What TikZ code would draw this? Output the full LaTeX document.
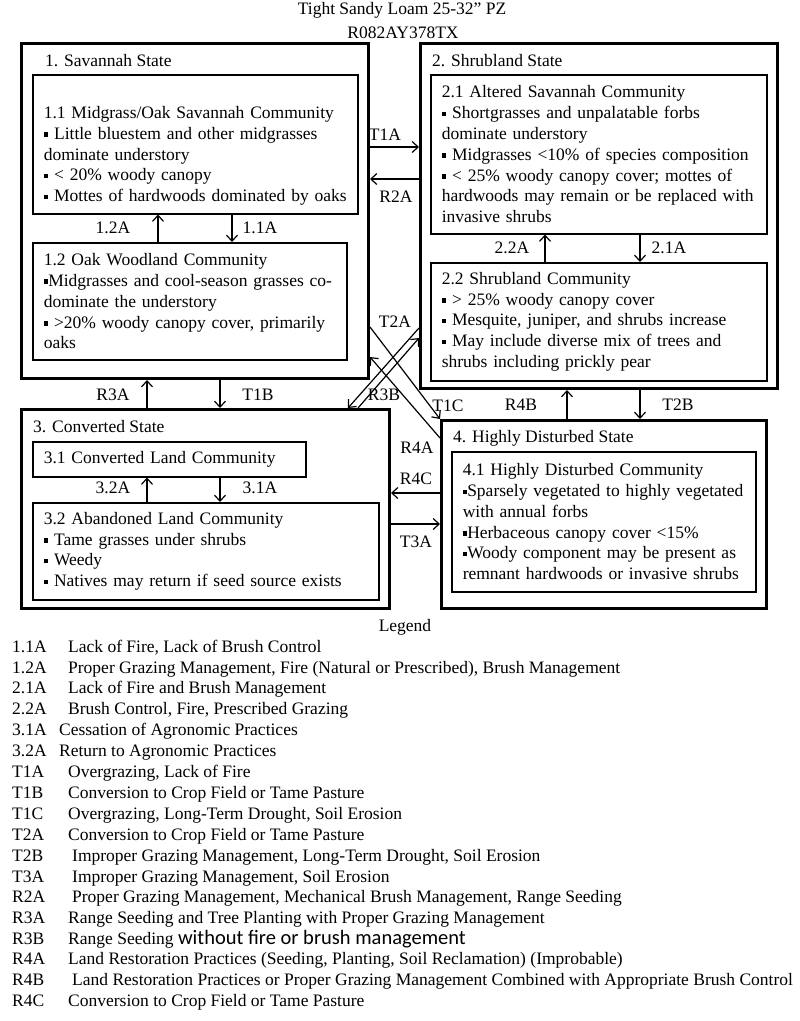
\documentclass[tikz,border=0pt]{standalone}
\usepackage{fontspec}
\setmainfont{Liberation Serif}
\newfontfamily\calib{Carlito}
\usetikzlibrary{arrows.meta}
\newcommand{\sqb}{\rule[2.5pt]{4.5pt}{4.5pt}}
\newcommand{\txtsize}{\fontsize{17.5}{20.8}\selectfont}

\tikzset{
	statebox/.style={draw, line width=3pt, anchor=north west, inner sep=0pt},
	commbox/.style={draw, line width=1.5pt, anchor=north west, align=left, inner xsep=11pt, inner ysep=0pt, font=\txtsize},
	lbl/.style={font=\txtsize, inner sep=0pt},
	leg/.style={font=\txtsize, inner sep=0pt, anchor=base west},
	arr/.style={line width=1.2pt, -{Straight Barb[length=6pt,width=11pt]}}
}

\begin{document}
\begin{tikzpicture}[x=1pt,y=1pt,yscale=-1,xscale=1]
	\useasboundingbox[fill=white] (0,0) rectangle (800,1021);
	\node[lbl, anchor=base] (ttl) at (402,14) {Tight Sandy Loam 25-32” PZ};
	\node[lbl, anchor=base] (code) at (403,38) {R082AY378TX};
	\node[statebox, minimum width=347pt, minimum height=335pt] (s1) at (20,42) {};
	\node[statebox, minimum width=357pt, minimum height=345pt] (s2) at (419,42) {};
	\node[statebox, minimum width=368pt, minimum height=199pt] (s3) at (20,408) {};
	\node[statebox, minimum width=325pt, minimum height=188pt] (s4) at (440,419) {};
	\node[lbl, anchor=base west] (s1t) at (45,66) {1. Savannah State};
	\node[lbl, anchor=base west] (s2t) at (432,66) {2. Shrubland State};
	\node[lbl, anchor=base west] (s3t) at (33,432) {3. Converted State};
	\node[lbl, anchor=base west] (s4t) at (453,442) {4. Highly Disturbed State};
	\node[commbox, text width=303pt, minimum height=139pt] (c11) at (32,74) {\strut\\1.1 Midgrass/Oak Savannah Community\\\sqb{} Little bluestem and other midgrasses\\dominate understory\\\sqb{} < 20\% woody canopy\\\sqb{} Mottes of hardwoods dominated by oaks};
	\node[commbox, text width=292pt, minimum height=117pt] (c12) at (32,242) {1.2 Oak Woodland Community\\\sqb Midgrasses and cool-season grasses co-\\dominate the understory\\\sqb{} >20\% woody canopy cover, primarily\\oaks};
	\node[commbox, text width=314pt, minimum height=159pt] (c21) at (430,74) {2.1 Altered Savannah Community\\\sqb{} Shortgrasses and unpalatable forbs\\dominate understory\\\sqb{} Midgrasses <10\% of species composition\\\sqb{} < 25\% woody canopy cover; mottes of\\hardwoods may remain or be replaced with\\invasive shrubs};
	\node[commbox, text width=314pt, minimum height=118pt] (c22) at (430,262) {2.2 Shrubland Community\\\sqb{} > 25\% woody canopy cover\\\sqb{} Mesquite, juniper, and shrubs increase\\\sqb{} May include diverse mix of trees and\\shrubs including prickly pear};
	\node[commbox, text width=251pt, minimum height=35pt] (c31) at (32,441) {3.1 Converted Land Community};
	\node[commbox, text width=324pt, minimum height=97pt] (c32) at (32,502) {3.2 Abandoned Land Community\\\sqb{} Tame grasses under shrubs\\\sqb{} Weedy\\\sqb{} Natives may return if seed source exists};
	\node[commbox, text width=282pt, minimum height=140pt] (c41) at (451,451) {4.1 Highly Disturbed Community\\\sqb Sparsely vegetated to highly vegetated\\with annual forbs\\\sqb Herbaceous canopy cover <15\%\\\sqb Woody component may be present as\\remnant hardwoods or invasive shrubs};
	\draw[arr] (c12.north -| 158,0) -- (c11.south -| 158,0);
	\draw[arr] (c11.south -| 232,0) -- (c12.north -| 232,0);
	\draw[arr] (c22.north -| 545,0) -- (c21.south -| 545,0);
	\draw[arr] (c21.south -| 640,0) -- (c22.north -| 640,0);
	\draw[arr] (c32.north -| 147,0) -- (c31.south -| 147,0);
	\draw[arr] (c31.south -| 220,0) -- (c32.north -| 220,0);
	\draw[arr] (s3.north -| 147,0) -- (s1.south -| 147,0);
	\draw[arr] (s1.south -| 220,0) -- (s3.north -| 220,0);
	\draw[arr] (s4.north -| 567,0) -- (s2.south -| 567,0);
	\draw[arr] (s2.south -| 640,0) -- (s4.north -| 640,0);
	\draw[arr] (s1.east |- 0,147) -- (s2.west |- 0,147);
	\draw[arr] (s2.west |- 0,179) -- (s1.east |- 0,179);
	\draw[arr] (s4.west |- 0,493) -- (s3.east |- 0,493);
	\draw[arr] (s3.east |- 0,524) -- (s4.west |- 0,524);
	\draw[arr] (s1.east |- 0,327) -- (s4.north west);
	\draw[arr] (s4.west |- 0,438) -- (s1.east |- 0,357);
	\draw[arr] (s2.west |- 0,328) -- (s3.north -| 348,0);
	\draw[arr] (s3.north -| 358,0) -- (s2.west |- 0,338);
	\node[lbl] (l12a) at (113,228) {1.2A};
	\node[lbl] (l11a) at (260,228) {1.1A};
	\node[lbl] (l22a) at (512,248) {2.2A};
	\node[lbl] (l21a) at (669,248) {2.1A};
	\node[lbl] (l32a) at (113,488) {3.2A};
	\node[lbl] (l31a) at (260,488) {3.1A};
	\node[lbl] (lr3a) at (113,395) {R3A};
	\node[lbl] (lt1b) at (258,395) {T1B};
	\node[lbl] (lr4b) at (521,405) {R4B};
	\node[lbl] (lt2b) at (678,405) {T2B};
	\node[lbl] (lt1a) at (385,135) {T1A};
	\node[lbl] (lr2a) at (396,197) {R2A};
	\node[lbl] (lr4c) at (416,479) {R4C};
	\node[lbl] (lt3a) at (416,542) {T3A};
	\node[lbl] (lr4a) at (417,448) {R4A};
	\node[lbl] (lt1c) at (448,406) {T1C};
	\node[lbl] (lt2a) at (395,322) {T2A};
	\node[lbl] (lr3b) at (384,395) {R3B};
	\node[lbl, anchor=base] (lgd) at (405,631) {Legend};
	\node[leg] (g1) at (12,652) {\makebox[56pt][l]{1.1A}Lack of Fire, Lack of Brush Control};
	\node[leg] (g2) at (12,673) {\makebox[56pt][l]{1.2A}Proper Grazing Management, Fire (Natural or Prescribed), Brush Management};
	\node[leg] (g3) at (12,693) {\makebox[56pt][l]{2.1A}Lack of Fire and Brush Management};
	\node[leg] (g4) at (12,714) {\makebox[56pt][l]{2.2A}Brush Control, Fire, Prescribed Grazing};
	\node[leg] (g5) at (12,735) {\makebox[47pt][l]{3.1A}Cessation of Agronomic Practices};
	\node[leg] (g6) at (12,756) {\makebox[47pt][l]{3.2A}Return to Agronomic Practices};
	\node[leg] (g7) at (12,777) {\makebox[56pt][l]{T1A}Overgrazing, Lack of Fire};
	\node[leg] (g8) at (12,798) {\makebox[56pt][l]{T1B}Conversion to Crop Field or Tame Pasture};
	\node[leg] (g9) at (12,819) {\makebox[56pt][l]{T1C}Overgrazing, Long-Term Drought, Soil Erosion};
	\node[leg] (g10) at (12,840) {\makebox[56pt][l]{T2A}Conversion to Crop Field or Tame Pasture};
	\node[leg] (g11) at (12,861) {\makebox[60pt][l]{T2B}Improper Grazing Management, Long-Term Drought, Soil Erosion};
	\node[leg] (g12) at (12,882) {\makebox[60pt][l]{T3A}Improper Grazing Management, Soil Erosion};
	\node[leg] (g13) at (12,902) {\makebox[60pt][l]{R2A}Proper Grazing Management, Mechanical Brush Management, Range Seeding};
	\node[leg] (g14) at (12,923) {\makebox[56pt][l]{R3A}Range Seeding and Tree Planting with Proper Grazing Management};
	\node[leg] (g15) at (12,944) {\makebox[56pt][l]{R3B}Range Seeding {\calib\fontsize{20.5}{24}\selectfont without fire or brush management}};
	\node[leg] (g16) at (12,964) {\makebox[56pt][l]{R4A}Land Restoration Practices (Seeding, Planting, Soil Reclamation) (Improbable)};
	\node[leg] (g17) at (12,985) {\makebox[60pt][l]{R4B}Land Restoration Practices or Proper Grazing Management Combined with Appropriate Brush Control};
	\node[leg] (g18) at (12,1006) {\makebox[56pt][l]{R4C}Conversion to Crop Field or Tame Pasture};
\end{tikzpicture}
\end{document}
